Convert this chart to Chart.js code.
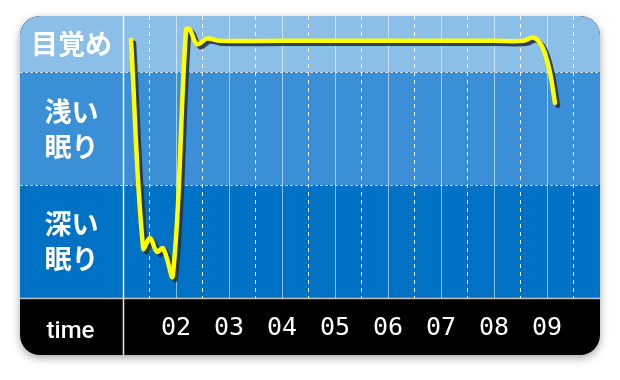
<!DOCTYPE html>
<html><head><meta charset="utf-8">
<style>html,body{margin:0;padding:0;background:#fff;}#wrap{width:620px;height:380px;}</style>
<script src="https://cdn.jsdelivr.net/npm/chart.js@4.4.1/dist/chart.umd.min.js"></script>
</head><body><div id="wrap"><canvas id="c" width="620" height="380"></canvas></div>
<script>
// ---- data ----
const timeHours  = [1.15, 1.38, 1.51, 1.64, 1.755, 1.94, 2.19, 2.26, 2.40, 2.585, 2.83, 4, 5, 6, 7, 8, 8.55, 8.74, 8.87, 8.96, 9.06, 9.15];
const sleepLevel = [2.29, 0.44, 0.53, 0.41, 0.44, 0.20, 2.38, 2.38, 2.25, 2.30, 2.28, 2.28, 2.28, 2.28, 2.28, 2.28, 2.28, 2.31, 2.26, 2.17, 1.99, 1.73];
const labelHours = [2, 3, 4, 5, 6, 7, 8, 9];
const hourLabels = ['02', '03', '04', '05', '06', '07', '08', '09'];
const stageValues = [0.5, 1.5, 2.25];
const stageLabels = [['深い', '眠り'], ['浅い', '眠り'], ['目覚め']];
const axisTitle = 'time';

const points = timeHours.map((h, i) => ({ x: h, y: sleepLevel[i] }));

const cardPlugin = {
  id: 'card',
  beforeDraw(chart) {
    const { ctx, chartArea: a, scales: { y } } = chart;
    const L = 20, R = 600, T = 16, B = 355, r = 20;
    ctx.save();
    ctx.shadowColor = 'rgba(0,0,0,0.35)'; ctx.shadowBlur = 9; ctx.shadowOffsetY = 3;
    ctx.beginPath(); ctx.roundRect(L, T, R - L, B - T, r); ctx.fillStyle = '#000'; ctx.fill();
    ctx.restore();
    ctx.save();
    ctx.beginPath(); ctx.roundRect(L, T, R - L, B - T, r); ctx.clip();
    const y1 = y.getPixelForValue(1), y2 = y.getPixelForValue(2);
    ctx.fillStyle = '#8cbfe8'; ctx.fillRect(L, T, R - L, y2 - T);
    ctx.fillStyle = '#3a8fd6'; ctx.fillRect(L, y2, R - L, y1 - y2);
    ctx.fillStyle = '#0072c6'; ctx.fillRect(L, y1, R - L, a.bottom - y1);
    ctx.strokeStyle = 'rgba(255,255,255,0.75)'; ctx.lineWidth = 1.5;
    ctx.beginPath(); ctx.moveTo(L, a.bottom + 0.5); ctx.lineTo(R, a.bottom + 0.5); ctx.stroke();
    ctx.strokeStyle = 'rgba(255,255,255,0.9)'; ctx.lineWidth = 1.5;
    ctx.beginPath(); ctx.moveTo(a.left + 0.5, T); ctx.lineTo(a.left + 0.5, B); ctx.stroke();
    ctx.setLineDash([3, 2]); ctx.strokeStyle = 'rgba(255,255,255,0.7)'; ctx.lineWidth = 1;
    [y1, y2].forEach(yy => {
      ctx.beginPath(); ctx.moveTo(L, Math.round(yy) + 0.5); ctx.lineTo(R, Math.round(yy) + 0.5); ctx.stroke();
    });
    ctx.restore();
    ctx.save();
    ctx.fillStyle = '#fff'; ctx.font = '500 24px Roboto'; ctx.textAlign = 'center'; ctx.textBaseline = 'alphabetic';
    ctx.fillText(axisTitle, (L + a.left) / 2 - 1, 338);
    ctx.restore();
  }
};

// shadow copy of the line (dataset 1) is drawn shifted down-right
const shadowPlugin = {
  id: 'lineShadow',
  beforeDatasetDraw(chart, args) {
    if (args.index !== 1) return;
    const c = chart.ctx; c.save(); c.translate(3, 3);
  },
  afterDatasetDraw(chart, args) { if (args.index === 1) chart.ctx.restore(); }
};

new Chart(document.getElementById('c'), {
  type: 'line',
  data: { datasets: [
    { data: points, borderColor: '#ffff00', borderWidth: 4.5, tension: 0.4,
      pointRadius: 0, borderCapStyle: 'round', borderJoinStyle: 'round', fill: false, clip: 10 },
    { data: points, borderColor: 'rgba(38,48,62,0.88)', borderWidth: 4.5, tension: 0.4,
      pointRadius: 0, borderCapStyle: 'round', borderJoinStyle: 'round', fill: false, clip: 10 }
  ] },
  options: {
    responsive: false, animation: false, devicePixelRatio: 1,
    layout: { padding: { left: 20, right: 20, top: 16, bottom: 25 } },
    plugins: { legend: { display: false }, tooltip: { enabled: false } },
    scales: {
      x: {
        type: 'linear', min: 1, max: 10,
        afterBuildTicks: s => { const t = []; for (let v = 2; v <= 20; v++) t.push({ value: v / 2 }); s.ticks = t; },
        afterFit: s => { s.height = 57; s.paddingLeft = 0; s.paddingRight = 0; },
        grid: {
          drawTicks: false, lineWidth: 1,
          color: c => (!c.tick || c.tick.value === 1 || c.tick.value === 10) ? 'rgba(0,0,0,0)' :
            (Number.isInteger(c.tick.value) ? 'rgba(255,255,255,0.55)' : 'rgba(255,255,255,0.9)')
        },
        border: { display: false, dash: c => (c.tick && !Number.isInteger(c.tick.value)) ? [4, 4] : [] },
        ticks: {
          color: '#fff', font: { family: 'DejaVu Sans Mono', size: 25 }, padding: 15,
          maxRotation: 0, autoSkip: false,
          callback: v => { const i = labelHours.indexOf(v); return i >= 0 ? hourLabels[i] : ''; }
        }
      },
      y: {
        min: 0, max: 2.5,
        afterBuildTicks: s => { s.ticks = stageValues.map(v => ({ value: v })); },
        afterFit: s => { s.width = 103; s.paddingTop = 0; s.paddingBottom = 0; },
        grid: { display: false, drawTicks: false },
        border: { display: false },
        ticks: {
          color: '#fff', font: { family: 'Noto Sans CJK JP', size: 27, weight: 'bold', lineHeight: 1.3 },
          crossAlign: 'center', padding: 11,
          callback: (v, i) => stageLabels[i]
        }
      }
    }
  },
  plugins: [cardPlugin, shadowPlugin]
});
</script></body></html>
